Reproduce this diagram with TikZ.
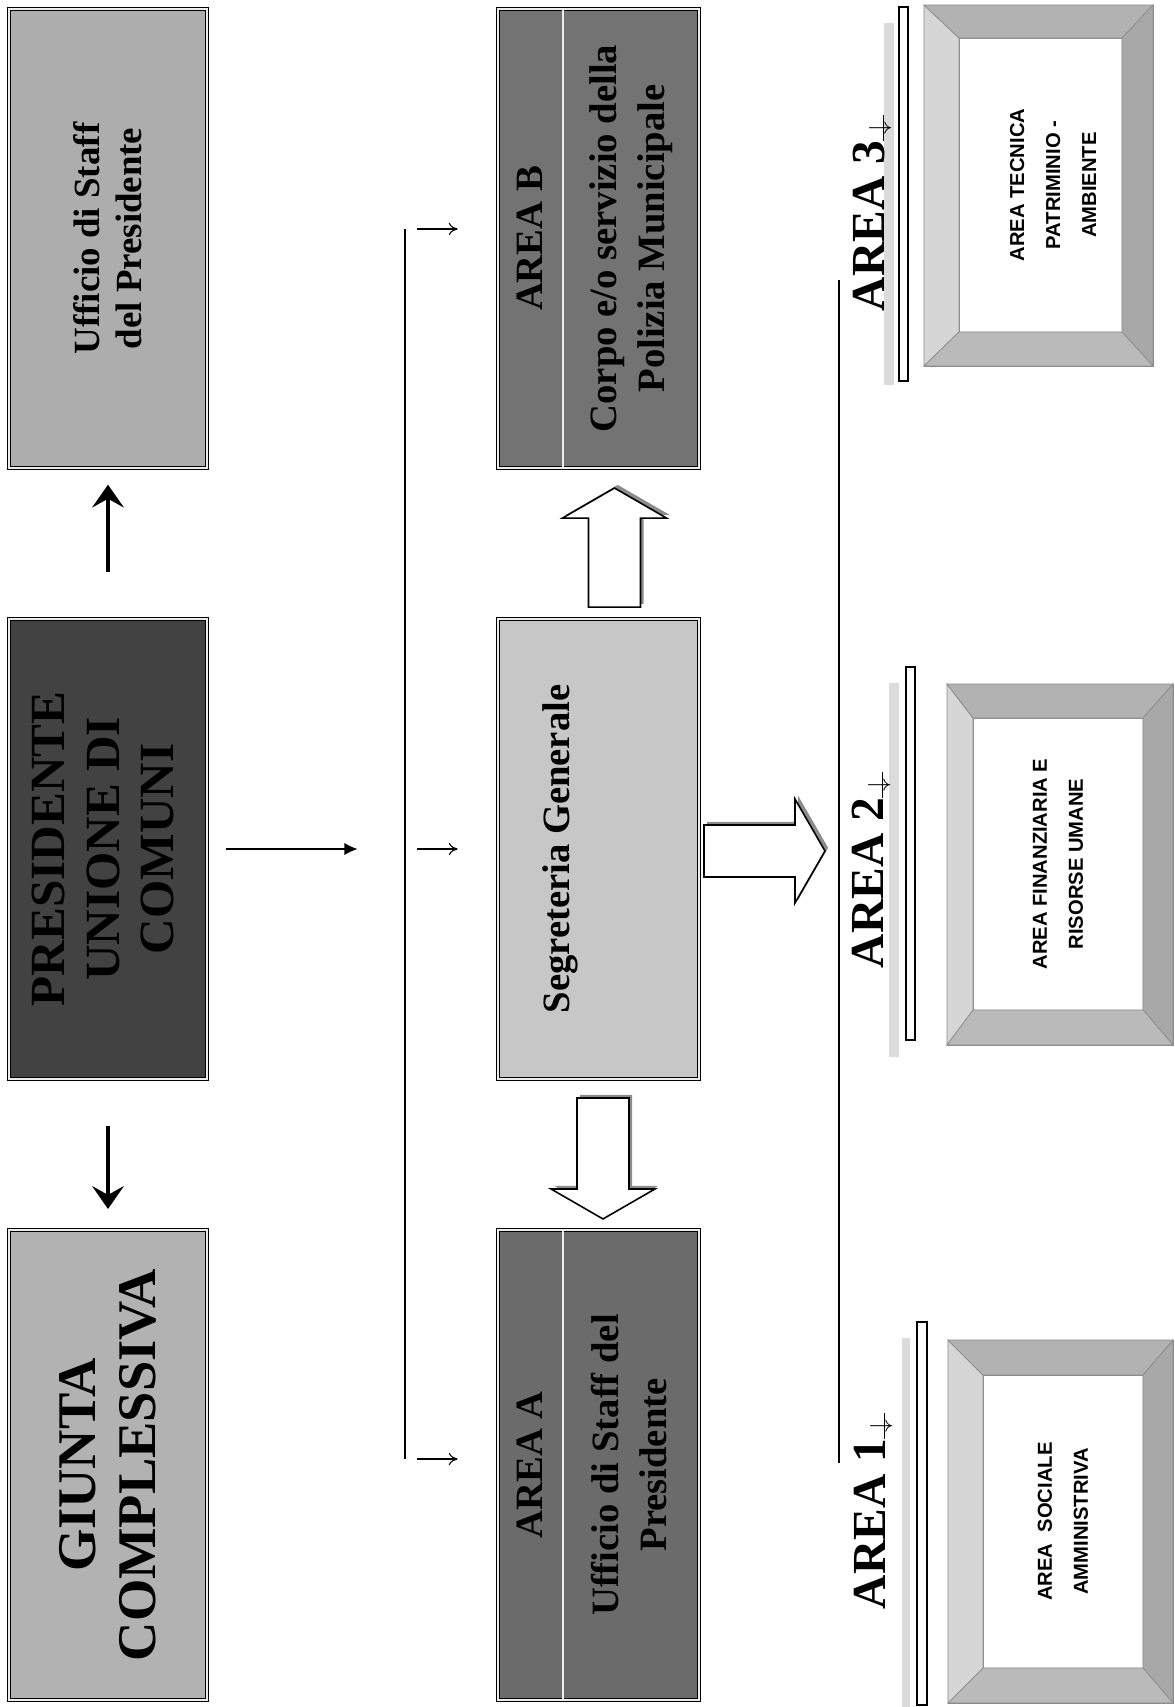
\documentclass[tikz,border=0pt]{standalone}
\usepackage{fontspec}
\setmainfont{Liberation Serif}
\newfontfamily\arialfont{Liberation Sans}
\usetikzlibrary{arrows.meta,calc}

\newcommand{\areamark}{\makebox[0pt][l]{\rule{0.55em}{0.5pt}}\makebox[0.55em]{\raisebox{-1.5pt}{\fontsize{14}{14}\selectfont$\downarrow$}}}

\begin{document}
\begin{tikzpicture}[x=0.02cm,y=-0.02cm,inner sep=0pt,outer sep=0pt,
orgbox/.style={draw=black,line width=0.5pt,double=gray!15,double distance=0.8pt,rectangle},
boxtext/.style={rotate=90,align=center,font=\bfseries\fontsize{22}{27}\selectfont},
arealabel/.style={rotate=90,anchor=base,font=\bfseries\fontsize{27}{30}\selectfont},
frametext/.style={rotate=90,align=center,font=\arialfont\bfseries\fontsize{11.5}{20.5}\selectfont},
frameout/.style={draw=black!45,line width=0.4pt,fill=black!25,rectangle},
framein/.style={draw=black!45,line width=0.4pt,fill=white,rectangle},
thickarrow/.style={line width=2pt,-{Stealth[length=13pt,width=18pt,inset=5pt]}},
busline/.style={line width=0.6pt},
smallarrow/.style={line width=0.6pt,-{To[length=5pt,width=7pt]}},
blockarrow/.style={draw,line width=0.9pt,fill=white,line join=miter,
  preaction={fill=black!45,transform canvas={xshift=1.8pt,yshift=1.8pt}}}]

\useasboundingbox (0,0) rectangle (1175,1707);

% left column
\node[orgbox,fill=black!32,minimum width=3.96cm,minimum height=9.18cm] (uff) at (108,238.5) {};
\node[orgbox,fill=black!74,minimum width=3.96cm,minimum height=9.2cm] (pres) at (108,849) {};
\node[orgbox,fill=black!30,minimum width=3.96cm,minimum height=9.4cm] (giunta) at (108,1465) {};
\node[boxtext,font=\bfseries\fontsize{21}{24}\selectfont] (uffT) at (uff) {Ufficio di Staff\\del Presidente};
\node[boxtext,font=\bfseries\fontsize{28}{31}\selectfont] (presT) at ($(pres)+(-5,0)$) {PRESIDENTE\\UNIONE DI\\COMUNI};
\node[boxtext,font=\bfseries\fontsize{31}{34}\selectfont] (giuntaT) at (giunta) {GIUNTA\\COMPLESSIVA};

\draw[thickarrow,shorten <=26.5pt,shorten >=9.5pt] (pres.north) -- (uff.south);
\draw[thickarrow,shorten <=27pt,shorten >=12pt] (pres.south) -- (giunta.north);

% first bus
\coordinate (busTop) at (405,229);
\coordinate (busBot) at (405,1459);
\draw[busline] (busTop) -- (busBot);
\draw[line width=0.8pt,-{Latex[length=7.5pt,width=7pt]},shorten <=11pt,shorten >=27pt] (pres.east) -- (pres.east -| busTop);

% right column
\node[orgbox,fill=black!55,minimum width=4.02cm,minimum height=9.18cm] (areaB) at (598.5,238.5) {};
\node[orgbox,fill=black!22,minimum width=4.02cm,minimum height=9.2cm] (segr) at (598.5,849) {};
\node[orgbox,fill=black!58,minimum width=4.02cm,minimum height=9.4cm] (areaA) at (598.5,1465) {};
\draw[line width=0.4pt,double=gray!15,double distance=0.8pt] ($(areaB.north west)+(65,0)$) -- ($(areaB.south west)+(65,0)$);
\draw[line width=0.4pt,double=gray!15,double distance=0.8pt] ($(areaA.north west)+(65,0)$) -- ($(areaA.south west)+(65,0)$);

\node[boxtext] (areaBT) at ($(areaB.west)+(32,0)$) {AREA B};
\node[boxtext] (corpoT) at ($(areaB.east)+(-68,0)$) {Corpo e/o servizio della\\Polizia Municipale};
\node[boxtext] (segrT) at ($(segr.west)+(62,0)$) {Segreteria Generale};
\node[boxtext] (areaAT) at ($(areaA.west)+(32,0)$) {AREA A};
\node[boxtext] (uffAT) at ($(areaA.east)+(-70,0)$) {Ufficio di Staff del\\Presidente};

\draw[smallarrow,shorten <=7pt,shorten >=23pt] (busTop) -- (busTop -| areaB.west);
\draw[smallarrow,shorten <=7pt,shorten >=23pt] (busTop |- segr.west) -- (segr.west);
\draw[smallarrow,shorten <=7pt,shorten >=23pt] (busBot) -- (busBot -| areaA.west);

% block arrows out of the Segreteria
\draw[blockarrow] ($(segr.north)+(16,-12)$) ++(-26,0) -- ++(0,-89) -- ++(-26,0) -- ++(52,-30) -- ++(52,30) -- ++(-26,0) -- ++(0,89) -- cycle;
\draw[blockarrow] ($(segr.south)+(4.5,19)$) ++(-26,0) -- ++(0,91) -- ++(-26,0) -- ++(52,30) -- ++(52,-30) -- ++(-26,0) -- ++(0,-91) -- cycle;
\draw[blockarrow] ($(segr.east)+(5,2)$) ++(0,-26) -- ++(91,0) -- ++(0,-26) -- ++(30,52) -- ++(-30,52) -- ++(0,-26) -- ++(-91,0) -- cycle;

% second bus
\coordinate (bus2Top) at (839,280);
\coordinate (bus2Bot) at (839,1463);
\draw[busline] (bus2Top) -- (bus2Bot);

% area headings
\fill[gray!28] (884,23) rectangle (894,385);
\draw[line width=0.6pt] (899,7) rectangle (908,381);
\node[arealabel] (area3) at (884,213) {AREA 3\areamark};
\fill[gray!28] (889,683) rectangle (899,1057);
\draw[line width=0.6pt] (906,667) rectangle (915,1040);
\node[arealabel] (area2) at (883,870) {AREA 2\areamark};
\fill[gray!28] (902,1338) rectangle (910,1707);
\draw[line width=0.6pt] (917,1322) rectangle (927,1705);
\node[arealabel] (area1) at (885,1511) {AREA 1\areamark};

% bevelled frames
\node[frameout,minimum width=4.58cm,minimum height=7.22cm] (f3) at (1038.5,185.5) {};
\node[frameout,minimum width=4.52cm,minimum height=7.22cm] (f2) at (1060,864.5) {};
\node[frameout,minimum width=4.5cm,minimum height=7.26cm] (f1) at (1060.5,1521.5) {};
\node[framein,minimum width=3.26cm,minimum height=5.88cm] (f3in) at (1040.5,185) {};
\node[framein,minimum width=3.4cm,minimum height=5.84cm] (f2in) at (1058,864) {};
\node[framein,minimum width=3.2cm,minimum height=5.86cm] (f1in) at (1063,1521.5) {};
\foreach \o/\i in {f1/f1in,f2/f2in,f3/f3in}{
  \path[fill=black!16,draw=black!45,line width=0.4pt] (\o.north west) -- (\i.north west) -- (\i.south west) -- (\o.south west) -- cycle;
  \path[fill=black!30,draw=black!45,line width=0.4pt] (\o.north west) -- (\o.north east) -- (\i.north east) -- (\i.north west) -- cycle;
  \path[fill=black!34,draw=black!45,line width=0.4pt] (\o.north east) -- (\o.south east) -- (\i.south east) -- (\i.north east) -- cycle;
  \path[fill=black!27,draw=black!45,line width=0.4pt] (\o.south west) -- (\i.south west) -- (\i.south east) -- (\o.south east) -- cycle;
}
\node[frametext] (f3T) at (1053,185) {AREA TECNICA\\PATRIMINIO -\\AMBIENTE};
\node[frametext] (f2T) at (f2in) {AREA FINANZIARIA E\\RISORSE UMANE};
\node[frametext] (f1T) at (f1in) {AREA\ \ SOCIALE\\AMMINISTRIVA};
\end{tikzpicture}
\end{document}
